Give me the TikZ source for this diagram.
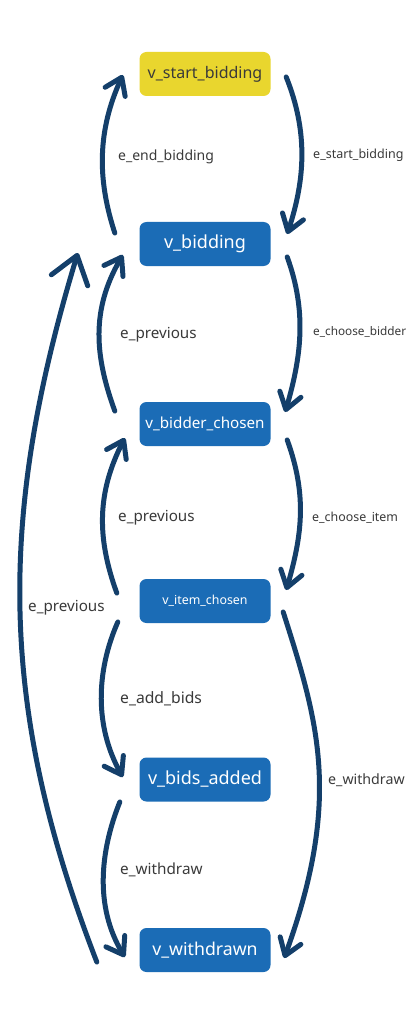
\documentclass[tikz,border=0pt]{standalone}
\usepackage{fontspec}
\setmainfont{Noto Sans}
\usetikzlibrary{arrows.meta}
\definecolor{stateblue}{HTML}{1B6CB6}
\definecolor{startyellow}{HTML}{E9D62E}
\definecolor{navy}{HTML}{143F6A}
\definecolor{labelgrey}{HTML}{3A3A3A}
\newcommand{\fs}[1]{\fontsize{#1}{#1}\selectfont}
\tikzset{
  statebox/.style={rounded corners=7pt, minimum width=131pt, minimum height=44pt, inner sep=0pt, fill=stateblue, text=white},
  startbox/.style={statebox, fill=startyellow, text=labelgrey},
  edgelabel/.style={anchor=west, inner sep=0pt, text=labelgrey},
  flow/.style={draw=navy, line width=5pt, line cap=round, -{Straight Barb[length=16pt,width=22pt,line cap=round,line join=round]}},
  bigflow/.style={flow, -{Straight Barb[length=26pt,width=38pt,line cap=round,line join=round]}}
}
\begin{document}
\begin{tikzpicture}[x=1pt,y=-1pt]
\useasboundingbox (0,0) rectangle (410,1024);
\fill[white] (0,0) rectangle (410,1024);

\node[startbox] (vsb) at (205,74) {\fs{16}v\_start\_bidding};
\node[statebox] (vb) at (205,244) {\fs{18}v\_bidding};
\node[statebox] (vbc) at (205,424) {\fs{15.2}v\_bidder\_chosen};
\node[statebox] (vic) at (205,601) {\fs{12.4}v\_item\_chosen};
\node[statebox] (vba) at (205,779.5) {\fs{18}v\_bids\_added};
\node[statebox] (vw) at (205,950) {\fs{17.7}v\_withdrawn};

% right side forward edges
\draw[flow] ([shift={(15.5,3)}]vsb.east) .. controls +(22,55) and +(18,-55) .. ([shift={(16.5,-10)}]vb.east);
\draw[flow] ([shift={(16.5,13)}]vb.east) .. controls +(20,55) and +(16,-55) .. ([shift={(14.5,-12)}]vbc.east);
\draw[flow] ([shift={(16.5,16)}]vbc.east) .. controls +(20,55) and +(16,-55) .. ([shift={(15.5,-11)}]vic.east);
\draw[flow] ([shift={(12.5,11)}]vic.east) .. controls +(35,110) and +(58,-160) .. ([shift={(13.5,8)}]vw.east);

% left side edges
\draw[flow] ([shift={(-24.5,-11)}]vb.west) .. controls +(-18,-55) and +(-25,55) .. ([shift={(-16.5,1)}]vsb.west);
\draw[flow] ([shift={(-24.5,-13)}]vbc.west) .. controls +(-20,-55) and +(-32,55) .. ([shift={(-16.5,11)}]vb.west);
\draw[flow] ([shift={(-22.5,-8)}]vic.west) .. controls +(-20,-55) and +(-28,55) .. ([shift={(-14.5,14)}]vbc.west);
\draw[bigflow] ([shift={(-42.5,12)}]vw.west) .. controls +(-99,-256) and +(-80,264) .. ([shift={(-61.5,9)}]vb.west);
\draw[flow] ([shift={(-21.5,21)}]vic.west) .. controls +(-22,50) and +(-28,-50) .. ([shift={(-16.5,-2.5)}]vba.west);
\draw[flow] ([shift={(-19.5,22.5)}]vba.west) .. controls +(-20,50) and +(-30,-50) .. ([shift={(-14.5,7)}]vw.west);

% labels
\node[edgelabel] (l1) at (313,155) {\fs{12.5}e\_start\_bidding};
\node[edgelabel] (l2) at (118,157) {\fs{14}e\_end\_bidding};
\node[edgelabel] (l3) at (313,332) {\fs{11.8}e\_choose\_bidder};
\node[edgelabel] (l4) at (120,335) {\fs{15.2}e\_previous};
\node[edgelabel] (l5) at (312,518) {\fs{12.4}e\_choose\_item};
\node[edgelabel] (l6) at (118,518) {\fs{15.2}e\_previous};
\node[edgelabel] (l7) at (28,608) {\fs{15.2}e\_previous};
\node[edgelabel] (l8) at (120,699) {\fs{15.7}e\_add\_bids};
\node[edgelabel] (l9) at (120,870) {\fs{15.3}e\_withdraw};
\node[edgelabel] (l10) at (328,780) {\fs{14.2}e\_withdraw};
\end{tikzpicture}
\end{document}
